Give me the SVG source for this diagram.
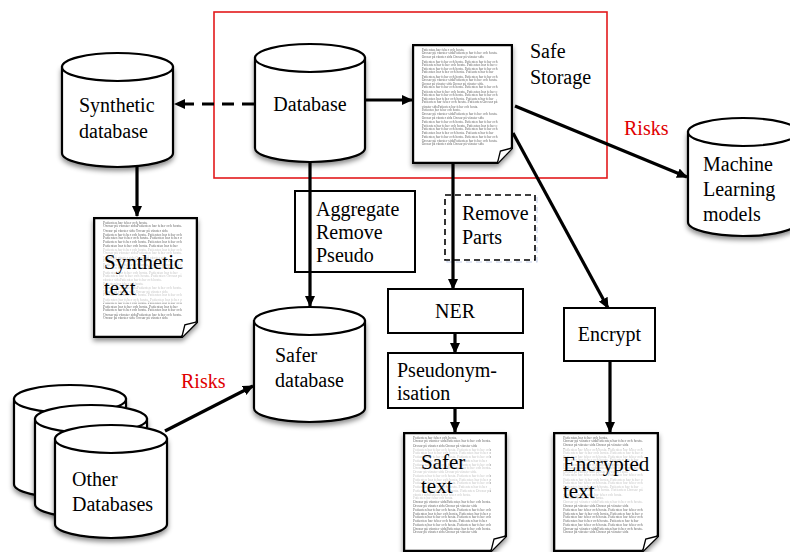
<svg xmlns="http://www.w3.org/2000/svg" xmlns:xlink="http://www.w3.org/1999/xlink" width="790" height="552" viewBox="0 0 790 552">
<style>
.lbl{font-family:"Liberation Serif","Times New Roman",serif;font-size:20px;fill:#000}
.risk{font-family:"Liberation Serif","Times New Roman",serif;font-size:20px;fill:#e00000}
.cyl{fill:#fff;stroke:#000;stroke-width:2.2}
.box{fill:#fff;stroke:#000;stroke-width:2}
.con{fill:none;stroke:#000;stroke-width:3.2}
.fil{font-family:"Liberation Serif","Times New Roman",serif;font-size:3.1px;fill:#6a6a6a}
.veil{fill:#fff;opacity:0.6}
</style>
<defs>
<filter id="sh" x="-20%" y="-20%" width="140%" height="150%">
<feDropShadow dx="0" dy="3" stdDeviation="2.5" flood-color="#000" flood-opacity="0.45"/>
</filter>
<marker id="ah" markerUnits="userSpaceOnUse" markerWidth="12" markerHeight="11" refX="10" refY="5" orient="auto">
<path d="M0,0 L11,5 L0,10 Z" fill="#000"/>
</marker>
<symbol id="doc" viewBox="0 0 104 120" preserveAspectRatio="none">
<path d="M1,1 H103 V104 L88,119 H1 Z" fill="#fff" stroke="#000" stroke-width="2.5"/>
<path d="M88,119 L91,107 L103,104" fill="#fff" stroke="#000" stroke-width="1.3"/>
<g class="fil">
<text x="10" y="7" textLength="44" lengthAdjust="spacingAndGlyphs">Patienten har feber och hosta.</text>
<text x="10" y="10.3" textLength="78" lengthAdjust="spacingAndGlyphs">Orosar på vänster sidaPatienten har feber och hosta.</text>
<text x="10" y="14.5" textLength="64" lengthAdjust="spacingAndGlyphs">Orosar på vänster sida Orosar på vänster sida</text>
<text x="10" y="18.7" textLength="78" lengthAdjust="spacingAndGlyphs">Patienten har feber och hosta. Patienten har feber och</text>
<text x="10" y="22" textLength="78" lengthAdjust="spacingAndGlyphs">Patienten har feber och hosta. Patienten har feber o</text>
<text x="10" y="26.2" textLength="78" lengthAdjust="spacingAndGlyphs">Patienten har feber och hosta. Patienten har feber och</text>
<text x="10" y="29.5" textLength="74" lengthAdjust="spacingAndGlyphs">Patienten har feber och hosta. Patienten har feber</text>
<text x="10" y="33.7" textLength="78" lengthAdjust="spacingAndGlyphs">Patienten har feber och hosta. Patienten har feber och</text>
<text x="10" y="37" textLength="78" lengthAdjust="spacingAndGlyphs">Orosar på vänster sidaPatienten har feber och hosta.</text>
<text x="10" y="41.2" textLength="64" lengthAdjust="spacingAndGlyphs">Orosar på vänster sida Orosar på vänster sida.</text>
<text x="10" y="44.5" textLength="78" lengthAdjust="spacingAndGlyphs">Patienten har feber och hosta. Patienten har feber och</text>
<text x="10" y="48.7" textLength="78" lengthAdjust="spacingAndGlyphs">Patienten har feber och hosta. Patienten har feber o</text>
<text x="10" y="52" textLength="78" lengthAdjust="spacingAndGlyphs">Patienten har feber och hosta. Patienten har feber och</text>
<text x="10" y="56.2" textLength="74" lengthAdjust="spacingAndGlyphs">Patienten har feber och hosta. Patienten har feber</text>
<text x="10" y="59.5" textLength="78" lengthAdjust="spacingAndGlyphs">Patienten har feber och hosta. Patienten Orosar på</text>
<text x="10" y="63.7" textLength="58" lengthAdjust="spacingAndGlyphs">vänster sidaPatienten har feber och hosta.</text>
<text x="10" y="67" textLength="40" lengthAdjust="spacingAndGlyphs">Patienten har feber och hosta.</text>
<text x="10" y="71.2" textLength="78" lengthAdjust="spacingAndGlyphs">Orosar på vänster sidaPatienten har feber och hosta.</text>
<text x="10" y="75.4" textLength="64" lengthAdjust="spacingAndGlyphs">Orosar på vänster sida Orosar på vänster sida</text>
<text x="10" y="78.7" textLength="78" lengthAdjust="spacingAndGlyphs">Patienten har feber och hosta. Patienten har feber och</text>
<text x="10" y="82.9" textLength="78" lengthAdjust="spacingAndGlyphs">Patienten har feber och hosta. Patienten har feber o</text>
<text x="10" y="86.2" textLength="78" lengthAdjust="spacingAndGlyphs">Patienten har feber och hosta. Patienten har feber och</text>
<text x="10" y="90.4" textLength="74" lengthAdjust="spacingAndGlyphs">Patienten har feber och hosta. Patienten har feber</text>
<text x="10" y="93.7" textLength="78" lengthAdjust="spacingAndGlyphs">Patienten har feber och hosta. Patienten har feber och</text>
<text x="10" y="97.9" textLength="78" lengthAdjust="spacingAndGlyphs">Orosar på vänster sidaPatienten har feber och hosta.</text>
<text x="10" y="101.2" textLength="64" lengthAdjust="spacingAndGlyphs">Orosar på vänster sida Orosar på vänster sida</text>
</g>
</symbol>
</defs>
<rect width="790" height="552" fill="#fff"/>

<g id="safe-storage-frame">
<rect x="214" y="12" width="393" height="166" fill="none" stroke="#e31a1c" stroke-width="1.6"/>
<text class="lbl" x="530" y="58">Safe</text>
<text class="lbl" x="530" y="84">Storage</text>
</g>

<g id="database">
<path class="cyl" filter="url(#sh)" d="M255,58 V148 A55,14 0 0 0 365,148 V58 Z"/>
<ellipse class="cyl" cx="310" cy="58" rx="55" ry="14"/>
<text class="lbl" x="310" y="111" text-anchor="middle">Database</text>
</g>

<g id="synthetic-database">
<path class="cyl" filter="url(#sh)" d="M62,67 V153 A55.5,14 0 0 0 173,153 V67 Z"/>
<ellipse class="cyl" cx="117.5" cy="67" rx="55.5" ry="14"/>
<text class="lbl" x="79" y="112">Synthetic</text>
<text class="lbl" x="79" y="138">database</text>
</g>

<g id="safe-storage-doc">
<use xlink:href="#doc" href="#doc" x="412" y="44" width="101" height="120" filter="url(#sh)"/>
</g>

<g id="synthetic-text">
<use xlink:href="#doc" href="#doc" x="93" y="217" width="105" height="121" filter="url(#sh)"/>
<rect class="veil" x="100" y="247" width="90" height="56"/>
<text class="lbl" x="104" y="269" style="font-size:21px">Synthetic</text>
<text class="lbl" x="104" y="295" style="font-size:21px">text</text>
</g>

<g id="ml-models">
<path class="cyl" filter="url(#sh)" d="M688,132 V222 A55,14 0 0 0 798,222 V132 Z"/>
<ellipse class="cyl" cx="743" cy="132" rx="55" ry="14"/>
<text class="lbl" x="703" y="171">Machine</text>
<text class="lbl" x="703" y="196">Learning</text>
<text class="lbl" x="703" y="221">models</text>
</g>

<g id="aggregate">
<rect class="box" x="295" y="191" width="120" height="81"/>
<text class="lbl" x="316" y="216">Aggregate</text>
<text class="lbl" x="316" y="239">Remove</text>
<text class="lbl" x="316" y="262">Pseudo</text>
</g>

<g id="remove-parts">
<rect x="447" y="197" width="90" height="65" fill="none" stroke="#c5d0ea" stroke-width="1.2" stroke-dasharray="6,4"/>
<rect x="445" y="195" width="90" height="65" fill="#fff" stroke="#000" stroke-width="1.6" stroke-dasharray="6,4"/>
<text class="lbl" x="462" y="220">Remove</text>
<text class="lbl" x="462" y="244">Parts</text>
</g>

<g id="ner">
<rect class="box" x="388" y="289" width="135" height="44"/>
<text class="lbl" x="455" y="318" text-anchor="middle">NER</text>
</g>

<g id="pseudonymisation">
<rect class="box" x="388" y="353" width="135" height="55"/>
<text class="lbl" x="397" y="377">Pseudonym-</text>
<text class="lbl" x="397" y="400">isation</text>
</g>

<g id="encrypt">
<rect class="box" x="564" y="308" width="91" height="53"/>
<text class="lbl" x="609.5" y="341" text-anchor="middle">Encrypt</text>
</g>

<g id="safer-database">
<path class="cyl" filter="url(#sh)" d="M254,321 V408 A55.5,14 0 0 0 365,408 V321 Z"/>
<ellipse class="cyl" cx="309.5" cy="321" rx="55.5" ry="14"/>
<text class="lbl" x="275" y="362">Safer</text>
<text class="lbl" x="275" y="387">database</text>
</g>

<g id="other-databases">
<path class="cyl" filter="url(#sh)" d="M14,399 V484 A56,14 0 0 0 126,484 V399 Z"/>
<ellipse class="cyl" cx="70" cy="399" rx="56" ry="14"/>
<path class="cyl" filter="url(#sh)" d="M35,419 V504 A56,14 0 0 0 147,504 V419 Z"/>
<ellipse class="cyl" cx="91" cy="419" rx="56" ry="14"/>
<path class="cyl" filter="url(#sh)" d="M55,439 V524 A56,14 0 0 0 167,524 V439 Z"/>
<ellipse class="cyl" cx="111" cy="439" rx="56" ry="14"/>
<text class="lbl" x="72" y="486">Other</text>
<text class="lbl" x="72" y="511">Databases</text>
</g>

<g id="safer-text">
<use xlink:href="#doc" href="#doc" x="403" y="432" width="104" height="120" filter="url(#sh)"/>
<rect class="veil" x="410" y="448" width="80" height="52"/>
<text class="lbl" x="421" y="469" style="font-size:21px">Safer</text>
<text class="lbl" x="421" y="493" style="font-size:21px">text</text>
</g>

<g id="encrypted-text">
<use xlink:href="#doc" href="#doc" x="553" y="432" width="106" height="120" filter="url(#sh)"/>
<rect class="veil" x="560" y="449" width="92" height="55"/>
<text class="lbl" x="563" y="471" style="font-size:21px">Encrypted</text>
<text class="lbl" x="563" y="498" style="font-size:21px">text</text>
</g>

<g id="connectors">
<line class="con" x1="365" y1="100" x2="412" y2="100" marker-end="url(#ah)"/>
<line class="con" x1="254" y1="104" x2="175" y2="104" stroke-dasharray="12,8" marker-end="url(#ah)"/>
<line class="con" x1="137" y1="167" x2="137" y2="216" marker-end="url(#ah)"/>
<line class="con" x1="310" y1="162" x2="310" y2="306" marker-end="url(#ah)"/>
<line class="con" x1="453" y1="164" x2="453" y2="289" marker-end="url(#ah)"/>
<line class="con" x1="455" y1="333" x2="455" y2="353" marker-end="url(#ah)"/>
<line class="con" x1="455" y1="408" x2="455" y2="432" marker-end="url(#ah)"/>
<line class="con" x1="515" y1="106" x2="687" y2="177" marker-end="url(#ah)"/>
<line class="con" x1="513" y1="133" x2="608" y2="308" marker-end="url(#ah)"/>
<line class="con" x1="610" y1="361" x2="610" y2="432" marker-end="url(#ah)"/>
<line class="con" x1="165" y1="431" x2="253" y2="386" marker-end="url(#ah)"/>
<text class="risk" x="624" y="135">Risks</text>
<text class="risk" x="181" y="388">Risks</text>
</g>
</svg>
